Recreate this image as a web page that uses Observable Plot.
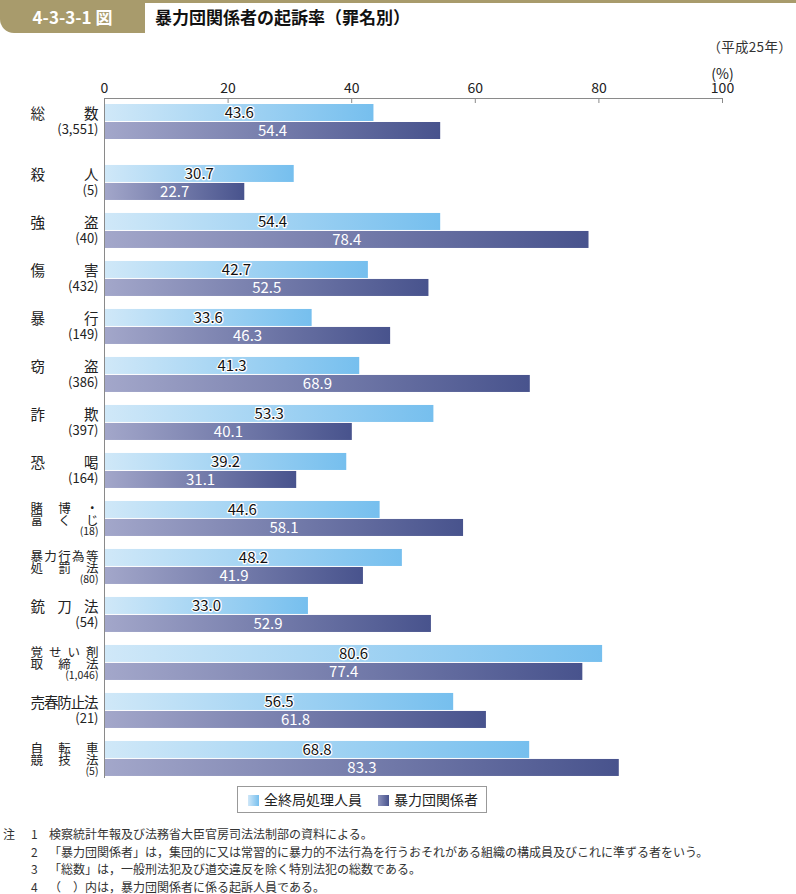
<!DOCTYPE html>
<html><head><meta charset="utf-8">
<script src="https://cdn.jsdelivr.net/npm/d3@7"></script>
<script src="https://cdn.jsdelivr.net/npm/@observablehq/plot@0.6"></script>
<style>
body{margin:0;background:#fff;font-family:"Noto Sans CJK JP","Noto Sans",sans-serif;color:#222;}
#page{position:relative;width:796px;height:894px;overflow:hidden;}
#topline{position:absolute;left:0;top:0;width:796px;height:3px;background:#a89b6c;}
#tab{position:absolute;left:0;top:0;width:145px;height:33px;background:#a89b6c;border-bottom-left-radius:14px;color:#fff;font-weight:bold;font-size:17px;line-height:33px;text-align:center;}
#title{position:absolute;left:155px;top:5px;font-size:17px;font-weight:bold;color:#111;line-height:24px;}
#year{position:absolute;right:4px;top:36px;font-size:13.5px;color:#333;letter-spacing:0.3px;}
#chart{position:absolute;left:0;top:56px;}
#legend{position:absolute;left:237px;top:786px;width:248px;height:25px;border:1px solid #999;font-size:14px;line-height:25px;color:#222;}
#legend span.sw{display:inline-block;width:11px;height:11px;vertical-align:-1px;margin-right:5px;}
#notes{position:absolute;left:0;top:827px;font-size:12px;line-height:13px;color:#333;}
#notes div{position:absolute;white-space:nowrap;}
</style></head><body>
<div id="page">
  <div id="topline"></div>
  <div id="tab">4-3-3-1 図</div>
  <div id="title">暴力団関係者の起訴率（罪名別）</div>
  <div id="year">（平成25年）</div>
  <div id="chart"></div>
  <div id="legend"></div>
  <div id="notes"></div>
</div>
<script>
const categories = ["総数","殺人","強盗","傷害","暴行","窃盗","詐欺","恐喝","賭博・富くじ","暴力行為等処罰法","銃刀法","覚せい剤取締法","売春防止法","自転車競技法"];
const labelLine1 = ["総数","殺人","強盗","傷害","暴行","窃盗","詐欺","恐喝","賭博・","暴力行為等","銃刀法","覚せい剤","売春防止法","自転車"];
const labelLine2 = ["","","","","","","","","富くじ","処罰法","","取締法","","競技法"];
const counts = ["3,551","5","40","432","149","386","397","164","18","80","54","1,046","21","5"];
const allFinal = [43.6,30.7,54.4,42.7,33.6,41.3,53.3,39.2,44.6,48.2,33.0,80.6,56.5,68.8];
const gangMembers = [54.4,22.7,78.4,52.5,46.3,68.9,40.1,31.1,58.1,41.9,52.9,77.4,61.8,83.3];
const xTicks = [0,20,40,60,80,100];
const seriesNames = ["全終局処理人員","暴力団関係者"];
const noteLines = [
  ["注","1","検察統計年報及び法務省大臣官房司法法制部の資料による。"],
  ["","2","「暴力団関係者」は，集団的に又は常習的に暴力的不法行為を行うおそれがある組織の構成員及びこれに準ずる者をいう。"],
  ["","3","「総数」は，一般刑法犯及び道交違反を除く特別法犯の総数である。"],
  ["","4","（　）内は，暴力団関係者に係る起訴人員である。"]
];

const rows = categories.map((c, i) => ({
  cat: c, pos: i === 0 ? 0 : i + 0.27,
  l1: labelLine1[i], l2: labelLine2[i], count: "(" + counts[i] + ")",
  a: allFinal[i], g: gangMembers[i]
}));
const U = 1/48;
const LIGHT_BOT = 17*U, DARK_TOP = 18*U, DARK_BOT = 35*U;
const yTop = -6*U;
const singles = rows.filter(d => !d.l2);
const doubles = rows.filter(d => d.l2);
const labelFont = '"Noto Sans CJK JP", sans-serif';

const chart = Plot.plot({
  width: 796, height: 730,
  marginLeft: 104, marginRight: 74, marginTop: 42, marginBottom: 8,
  x: {domain: [0, 100]},
  y: {domain: [yTop, yTop + 680*U], reverse: true, axis: null},
  style: {fontFamily: labelFont, fontSize: "14px", color: "#222", background: "transparent"},
  marks: [
    Plot.rect(rows, {x1: 0, x2: "a", y1: d => d.pos, y2: d => d.pos + LIGHT_BOT, fill: "url(#gLight)"}),
    Plot.rect(rows, {x1: 0, x2: "g", y1: d => d.pos + DARK_TOP, y2: d => d.pos + DARK_BOT, fill: "url(#gDark)"}),
    Plot.ruleY([yTop], {x1: 0, x2: 100, stroke: "#8a8a8a"}),
    Plot.ruleX([0], {stroke: "#8a8a8a"}),
    Plot.ruleX(xTicks, {y1: yTop, y2: yTop + 5*U, stroke: "#8a8a8a"}),
    Plot.axisX({anchor: "top", ticks: xTicks, tickSize: 0, tickPadding: 6, fontSize: 14, label: null, tickFormat: d => String(d)}),
    Plot.text(["(%)"], {x: 100, frameAnchor: "top", dy: -29, fontSize: 14, fill: "#222"}),
    Plot.text(rows, {x: d => d.a/2, y: d => d.pos + LIGHT_BOT/2, text: d => d.a.toFixed(1), fontSize: 15, fill: "#111", stroke: "white", strokeWidth: 2.5}),
    Plot.text(rows, {x: d => d.g/2, y: d => d.pos + (DARK_TOP + DARK_BOT)/2, text: d => d.g.toFixed(1), fontSize: 15, fill: "white"}),
    Plot.text(singles, {frameAnchor: "left", y: d => d.pos + 10*U, text: "l1", dx: -74, textAnchor: "start", fontSize: 14.5, fill: "#222"}),
    Plot.text(singles, {frameAnchor: "left", y: d => d.pos + 25*U, text: "count", dx: -6, textAnchor: "end", fontSize: 13, fill: "#222"}),
    Plot.text(doubles, {frameAnchor: "left", y: d => d.pos + 8*U, text: "l1", dx: -74, textAnchor: "start", fontSize: 12.5, fill: "#222"}),
    Plot.text(doubles, {frameAnchor: "left", y: d => d.pos + 19.5*U, text: "l2", dx: -74, textAnchor: "start", fontSize: 12.5, fill: "#222"}),
    Plot.text(doubles, {frameAnchor: "left", y: d => d.pos + 30.5*U, text: "count", dx: -6, textAnchor: "end", fontSize: 10.5, fill: "#222"})
  ]
});

const svg = d3.select(chart);
const defs = svg.insert("defs", ":first-child");
function grad(id, c0, c1) {
  const g = defs.append("linearGradient").attr("id", id).attr("x1", 0).attr("x2", 1).attr("y1", 0).attr("y2", 0);
  g.append("stop").attr("offset", "0%").attr("stop-color", c0);
  g.append("stop").attr("offset", "100%").attr("stop-color", c1);
}
grad("gLight", "#d0e8f8", "#76bfee");
grad("gDark", "#a3a7ca", "#48538d");
const justify = new Set([...labelLine1, ...labelLine2.filter(s => s)]);
svg.selectAll("text").each(function() {
  if (justify.has(this.textContent)) {
    d3.select(this).attr("textLength", 68).attr("lengthAdjust", "spacing");
  }
});
document.getElementById("chart").appendChild(chart);

const legend = document.getElementById("legend");
const swatches = ["linear-gradient(90deg,#cfe7f8,#76bfee)", "linear-gradient(90deg,#8d93bd,#48538d)"];
legend.innerHTML = seriesNames.map((n, i) =>
  `<span style="position:absolute;left:${i === 0 ? 10 : 140}px;top:0"><span class="sw" style="background:${swatches[i]}"></span>${n}</span>`).join("");

const notes = document.getElementById("notes");
notes.innerHTML = noteLines.map((l, i) =>
  `<div style="left:3px;top:${i*17.5}px">${l[0]}</div><div style="left:31px;top:${i*17.5}px">${l[1]}</div><div style="left:49px;top:${i*17.5}px">${l[2]}</div>`).join("");
</script>
</body></html>
